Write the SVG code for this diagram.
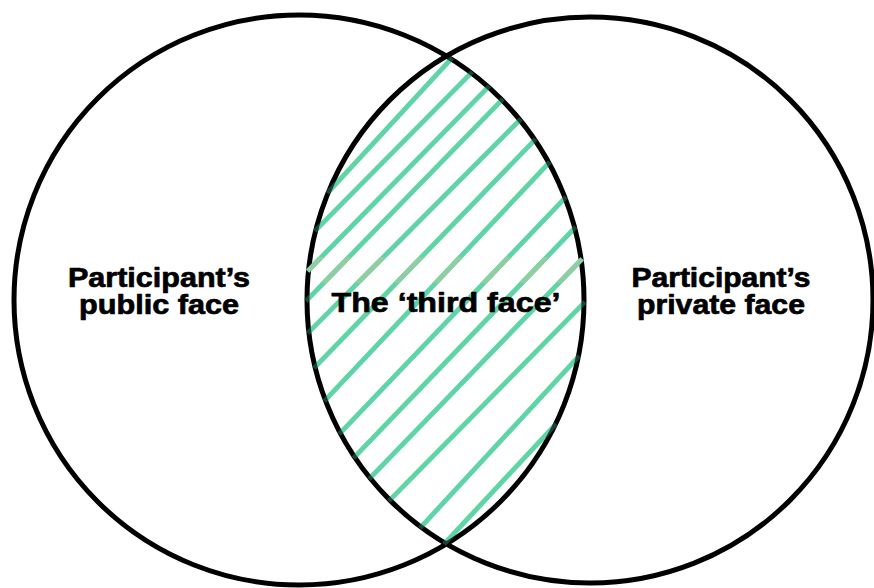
<svg xmlns="http://www.w3.org/2000/svg" xmlns:xlink="http://www.w3.org/1999/xlink" width="874" height="588" viewBox="0 0 874 588">
  <style>
    .ring { fill: none; stroke: #000; stroke-width: 5; }
    .hatch { stroke: #5fd4a6; stroke-width: 4.8; stroke-linecap: butt; fill: none; }
    .hatch-over { stroke: #5fd4a6; stroke-width: 4.8; fill: none; opacity: 0.3; }
    .hatch-band { stroke: #8fcda2; stroke-width: 4.8; fill: none; }
    .label { font-family: "Liberation Sans", Arial, sans-serif; font-weight: bold; font-size: 27px; fill: #000; stroke: #000; stroke-width: 0.7; stroke-linejoin: round; text-anchor: middle; }
  </style>
  <defs>
    <g id="hatch-lines">
      <line x1="327.4" y1="193.1" x2="452.1" y2="57.9"/>
      <line x1="314.8" y1="231.1" x2="472.3" y2="71.9"/>
      <line x1="307.6" y1="271.1" x2="489.4" y2="85.9"/>
      <line x1="306" y1="301.1" x2="503" y2="98.9"/>
      <line x1="307.8" y1="333.1" x2="521" y2="118.9"/>
      <line x1="314" y1="368.1" x2="535.8" y2="138.9"/>
      <line x1="324.3" y1="401.1" x2="549.9" y2="161.9"/>
      <line x1="339.2" y1="434.1" x2="566.1" y2="196.9"/>
      <line x1="353.5" y1="458.1" x2="575.8" y2="226.9"/>
      <line x1="369" y1="479.1" x2="582.2" y2="258.9"/>
      <line x1="388.8" y1="501.1" x2="585" y2="301.9"/>
      <line x1="420" y1="528.1" x2="579.2" y2="355.9"/>
      <line x1="444" y1="544.1" x2="556.1" y2="423.9"/>
    </g>
    <clipPath id="band">
      <rect x="300" y="257" width="295" height="26"/>
    </clipPath>
  </defs>

  <g id="third-face-hatch">
    <use xlink:href="#hatch-lines" href="#hatch-lines" class="hatch"/>
  </g>

  <g id="public-face">
    <circle class="ring" cx="299" cy="300" r="285"/>
  </g>

  <g id="private-face">
    <circle class="ring" cx="590" cy="300" r="283"/>
  </g>

  <g id="hatch-overlay">
    <use xlink:href="#hatch-lines" href="#hatch-lines" class="hatch-over"/>
    <use xlink:href="#hatch-lines" href="#hatch-lines" class="hatch-band" clip-path="url(#band)"/>
  </g>

  <g id="public-face-label">
    <text class="label" x="159" y="286.5" textLength="182" lengthAdjust="spacingAndGlyphs">Participant’s</text>
    <text class="label" x="159" y="314" textLength="160" lengthAdjust="spacingAndGlyphs">public face</text>
  </g>

  <g id="private-face-label">
    <text class="label" x="721" y="286.5" textLength="179" lengthAdjust="spacingAndGlyphs">Participant’s</text>
    <text class="label" x="721" y="314" textLength="168" lengthAdjust="spacingAndGlyphs">private face</text>
  </g>

  <g id="third-face">
    <text class="label" x="446" y="312" style="font-size:28px" textLength="229" lengthAdjust="spacingAndGlyphs">The ‘third face’</text>
  </g>
</svg>
